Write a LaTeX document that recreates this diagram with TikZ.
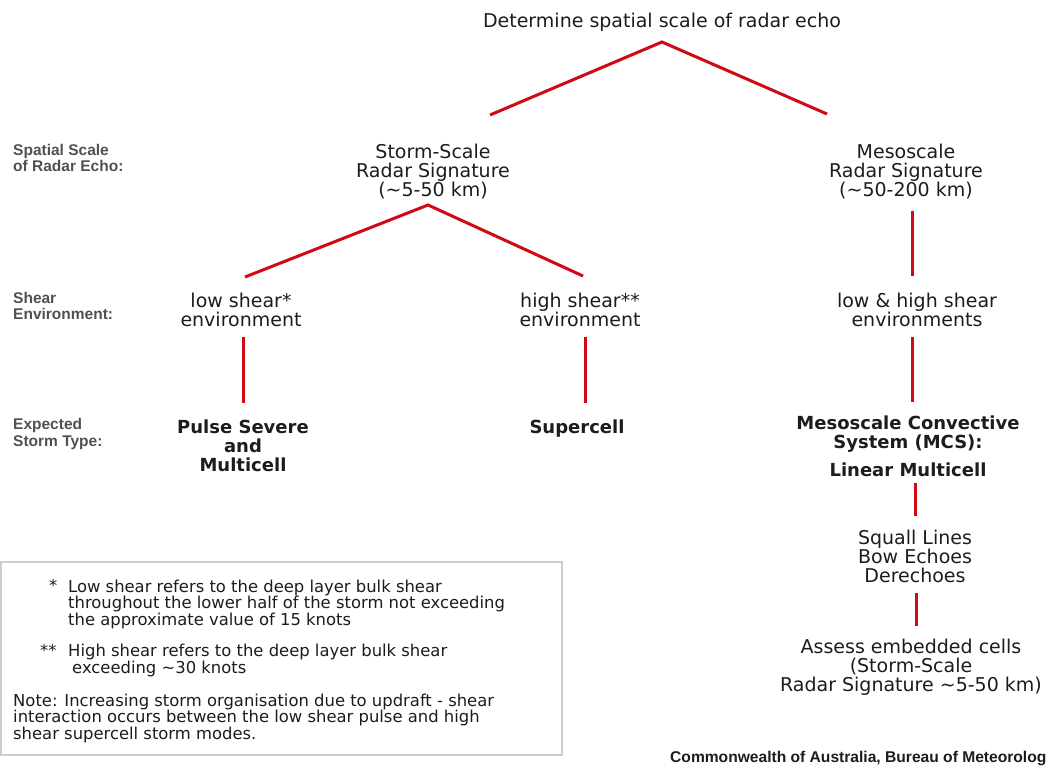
\documentclass[tikz,border=0pt]{standalone}
\usepackage{fontspec}
\setmainfont{DejaVu Sans}
\newfontfamily\rowfont{Liberation Sans}
\definecolor{linkred}{RGB}{206,10,20}
\definecolor{textdark}{RGB}{28,28,28}
\definecolor{rowgray}{RGB}{80,80,80}
\definecolor{boxgray}{RGB}{205,205,205}

\begin{document}
\begin{tikzpicture}[x=1pt,y=-1pt,
  every node/.style={text=textdark,inner sep=0pt},
  levelnode/.style={align=center,font=\fontsize{19}{19}\selectfont},
  typenode/.style={align=center,font=\fontsize{18}{19}\selectfont\bfseries},
  rowlabel/.style={anchor=west,align=left,text=rowgray,font=\rowfont\fontsize{15.5}{16.5}\selectfont\bfseries},
  notetext/.style={align=left,font=\fontsize{16.4}{16.5}\selectfont},
  redlink/.style={draw=linkred,line width=3pt}]

  %枠
  \useasboundingbox (0,0) rectangle (1052,767);

  %行ラベル
  \node[rowlabel] (rowscale) at (13,158) {Spatial Scale\\of Radar Echo:};
  \node[rowlabel] (rowshear) at (13,306) {Shear\\Environment:};
  \node[rowlabel] (rowtype)  at (13,434) {Expected\\Storm Type:};

  %ノード
  \node[levelnode] (title) at (662,22) {Determine spatial scale of radar echo};
  \node[levelnode] (storm) at (433,172) {Storm-Scale\\Radar Signature\\(\textasciitilde5-50 km)};
  \node[levelnode] (meso)  at (906,172) {Mesoscale\\Radar Signature\\(\textasciitilde50-200 km)};

  \node[levelnode] (lowshear)  at (241,310) {low shear*\\environment};
  \node[levelnode] (highshear) at (580,310) {high shear**\\environment};
  \node[levelnode] (bothshear) at (917,310) {low \& high shear\\environments};

  \node[typenode] (pulse)     at (243,446) {Pulse Severe\\and\\Multicell};
  \node[typenode] (supercell) at (577,429) {Supercell};
  \node[typenode] (mcs)       at (908,446) {Mesoscale Convective\\System (MCS):\\[9pt]Linear Multicell};

  \node[levelnode] (squall) at (915,556) {Squall Lines\\Bow Echoes\\Derechoes};
  \node[levelnode] (assess) at (911,667) {Assess embedded cells\\(Storm-Scale\\Radar Signature \textasciitilde5-50 km)};

  %分岐点
  \coordinate (apexA) at (662,42);
  \coordinate (stormend) at (490,115);
  \coordinate (mesoend) at (827,114);
  \coordinate (apexB) at (428,205);
  \coordinate (lowend) at (245,277);
  \coordinate (highend) at (583,276);

  %線
  \draw[redlink] (stormend) -- (apexA) -- (mesoend);
  \draw[redlink] (lowend) -- (apexB) -- (highend);

  \draw[redlink,shorten <=11pt,shorten >=17pt] ([xshift=6pt]meso.south) -- ([xshift=-5pt]bothshear.north);
  \draw[redlink,shorten <=9.5pt,shorten >=17pt] ([xshift=2pt]lowshear.south) -- (pulse.north);
  \draw[redlink,shorten <=9.5pt,shorten >=17pt] ([xshift=5pt]highshear.south) -- ([xshift=8pt]supercell.north);
  \draw[redlink,shorten <=9.5pt,shorten >=13pt] ([xshift=-5pt]bothshear.south) -- ([xshift=4pt]mcs.north);
  \draw[redlink,shorten <=6.5pt,shorten >=13pt] ([xshift=7pt]mcs.south) -- (squall.north);
  \draw[redlink,shorten <=10.5pt,shorten >=13pt] ([xshift=1pt]squall.south) -- ([xshift=5pt]assess.north);

  %注記
  \draw[boxgray,line width=1.5pt] (1,562) rectangle (562,755);
  \node[notetext,anchor=base west] (starA) at (49,591.5) {*};
  \node[notetext,anchor=west] (lownote) at (68,604) {Low shear refers to the deep layer bulk shear\\throughout the lower half of the storm not exceeding\\the approximate value of 15 knots};
  \node[notetext,anchor=base west] (starB) at (40,656.5) {**};
  \node[notetext,anchor=west] (highnote) at (68,660.5) {High shear refers to the deep layer bulk shear\\\hspace*{4pt}exceeding \textasciitilde30 knots};
  \node[notetext,anchor=west] (note) at (13,718) {Note: Increasing storm organisation due to updraft - shear\\interaction occurs between the low shear pulse and high\\shear supercell storm modes.};

  %出典
  \node[anchor=base west,font=\rowfont\fontsize{15.6}{16}\selectfont\bfseries] (credit) at (670,762.5) {Commonwealth of Australia, Bureau of Meteorolog};
\end{tikzpicture}
\end{document}
